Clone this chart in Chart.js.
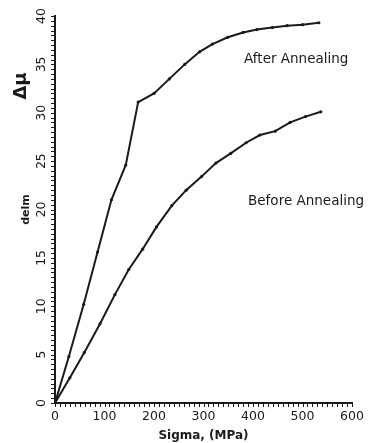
<!DOCTYPE html>
<html lang="en">
<head>
  <meta charset="UTF-8" />
  <title>delm vs Sigma</title>
  <script src="https://cdn.jsdelivr.net/npm/chart.js"></script>
  <style>
    body {
      margin: 0;
      padding: 0;
      background: #fff;
    }
    .chart-box {
      width: 380px;
      height: 443px;
    }
  </style>
</head>
<body>
  <div class="chart-box">
    <canvas id="annealChart" width="380" height="443"></canvas>
  </div>

  <script>
    // readings: sigma in MPa, delm
    const sigmaAfter = [0, 28, 58, 86, 114, 143, 168, 200, 231, 262, 292, 318, 349, 380, 408, 439, 469, 500, 533];
    const delmAfter = [0, 4.8, 10.2, 15.6, 21.0, 24.6, 31.1, 32.0, 33.5, 35.0, 36.3, 37.1, 37.8, 38.3, 38.6, 38.8, 39.0, 39.1, 39.3];

    const sigmaBefore = [0, 30, 59, 91, 121, 149, 177, 205, 236, 265, 296, 325, 355, 386, 414, 445, 475, 506, 537];
    const delmBefore = [0, 2.6, 5.2, 8.2, 11.2, 13.8, 15.9, 18.2, 20.4, 22.0, 23.4, 24.8, 25.8, 26.9, 27.7, 28.1, 29.0, 29.6, 30.1];

    const seriesLabels = ['After Annealing', 'Before Annealing'];
    // where the curve labels sit, in data units (sigma, delm)
    const labelSpots = [[382, 35.5], [390, 20.8]];

    const ink = '#1a1a1a';
    const font = 'DejaVu Sans';
    const TICK = 4;

    const toPoints = (xs, ys) => xs.map((x, i) => ({ x: x, y: ys[i] }));

    // small tick marks on both axes, one per scale tick
    const axisTicks = {
      id: 'axisTicks',
      afterDraw(chart) {
        const { ctx, scales } = chart;
        const xs = scales.x, ys = scales.y;
        ctx.save();
        ctx.strokeStyle = ink;
        ctx.lineWidth = 1;
        ctx.beginPath();
        xs.ticks.forEach(t => {
          const px = Math.round(xs.getPixelForValue(t.value)) + 0.5;
          ctx.moveTo(px, xs.top);
          ctx.lineTo(px, xs.top + TICK);
        });
        ys.ticks.forEach(t => {
          const py = Math.round(ys.getPixelForValue(t.value)) + 0.5;
          ctx.moveTo(ys.right, py);
          ctx.lineTo(ys.right - TICK, py);
        });
        ctx.stroke();
        ctx.restore();
      }
    };

    const curveLabels = {
      id: 'curveLabels',
      afterDraw(chart) {
        const { ctx, scales } = chart;
        ctx.save();
        ctx.fillStyle = ink;
        ctx.font = '13.5px "' + font + '"';
        ctx.textAlign = 'left';
        ctx.textBaseline = 'middle';
        seriesLabels.forEach((txt, i) => {
          ctx.fillText(txt,
            scales.x.getPixelForValue(labelSpots[i][0]),
            scales.y.getPixelForValue(labelSpots[i][1]));
        });
        // the big delta-mu symbol next to the y axis
        ctx.translate(21, 86);
        ctx.rotate(-Math.PI / 2);
        ctx.font = 'bold 18px "' + font + '"';
        ctx.textAlign = 'center';
        ctx.fillText('Δμ', 0, 0);
        ctx.restore();
      }
    };

    new Chart(document.getElementById('annealChart'), {
      type: 'line',
      data: {
        datasets: [{
          label: seriesLabels[0],
          data: toPoints(sigmaAfter, delmAfter),
          borderColor: ink,
          backgroundColor: ink,
          borderWidth: 2,
          pointRadius: 1.6,
          pointBorderWidth: 0,
          tension: 0
        }, {
          label: seriesLabels[1],
          data: toPoints(sigmaBefore, delmBefore),
          borderColor: ink,
          backgroundColor: ink,
          borderWidth: 2,
          pointRadius: 1.6,
          pointBorderWidth: 0,
          tension: 0
        }]
      },
      options: {
        responsive: false,
        animation: false,
        layout: { padding: { top: 16, right: 28, left: 0, bottom: 0 } },
        plugins: {
          legend: { display: false },
          tooltip: { enabled: false }
        },
        scales: {
          x: {
            type: 'linear',
            min: 0,
            max: 600,
            afterFit: s => { s.height = 40; },
            border: { color: ink, width: 2 },
            grid: { drawOnChartArea: false, drawTicks: false },
            ticks: {
              stepSize: 10,
              autoSkip: false,
              maxRotation: 0,
              padding: TICK + 2,
              color: ink,
              font: { family: font, size: 12.5 },
              callback: v => (v % 100 === 0 ? v : '')
            },
            title: {
              display: true,
              text: 'Sigma, (MPa)',
              color: ink,
              font: { family: font, size: 12, weight: 'bold' },
              padding: { top: 0, bottom: 0 }
            }
          },
          y: {
            type: 'linear',
            min: 0,
            max: 40,
            afterFit: s => { s.width = 55; },
            border: { color: ink, width: 2 },
            grid: { drawOnChartArea: false, drawTicks: false },
            ticks: {
              stepSize: 0.5,
              autoSkip: false,
              minRotation: 90,
              maxRotation: 90,
              crossAlign: 'center',
              padding: TICK + 1,
              color: ink,
              font: { family: font, size: 12.5 },
              callback: v => (v % 5 === 0 ? v : '')
            },
            title: {
              display: true,
              text: 'delm',
              color: ink,
              font: { family: font, size: 11, weight: 'bold' },
              padding: { top: 20, bottom: 0 }
            }
          }
        }
      },
      plugins: [axisTicks, curveLabels]
    });
  </script>
</body>
</html>
